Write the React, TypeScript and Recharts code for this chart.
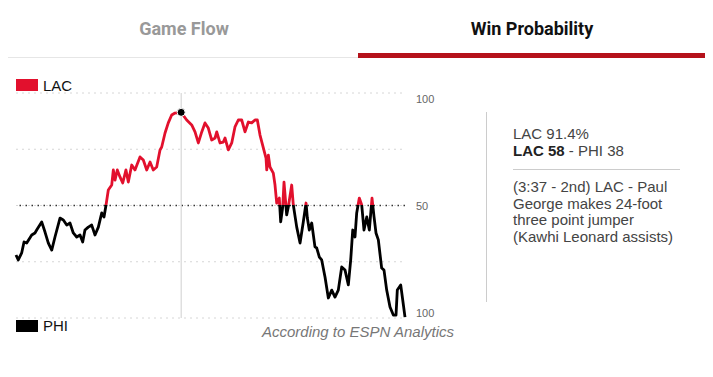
import {
  CartesianGrid,
  Line,
  LineChart,
  ReferenceDot,
  ReferenceLine,
  XAxis,
  YAxis,
} from 'recharts'

// game minute elapsed (0-48)
const minutes = [
  0, 0.28, 0.7, 0.99, 1.32, 1.94, 2.34, 2.55, 3.17, 3.58, 3.99, 4.41, 4.81, 5.43, 5.84, 6.26, 6.66, 7.07,
  7.49, 7.9, 8.23, 8.51, 8.92, 9.34, 9.75, 10.16, 10.58, 10.86, 11.11, 11.39, 11.81, 12.01, 12.22, 12.5,
  12.83, 13.17, 13.57, 13.86, 14.28, 14.68, 15.3, 15.71, 16.13, 16.54, 16.94, 17.36, 17.77, 17.98, 18.39,
  18.79, 19.21, 19.62, 20.38, 21.06, 21.68, 22.09, 22.5, 22.92, 23.32, 23.73, 24.15, 24.56, 24.77, 25.17,
  25.58, 25.79, 26.2, 26.62, 27.02, 27.43, 27.85, 28.26, 28.67, 29.08, 29.49, 29.78, 30.11, 30.52, 30.85,
  30.94, 31.14, 31.34, 31.75, 31.96, 32.17, 32.49, 32.66, 32.91, 33.07, 33.4, 33.6, 34.02, 34.22, 34.64,
  35.05, 35.45, 35.79, 35.95, 36.19, 36.49, 36.89, 37.11, 37.43, 37.72, 38.13, 38.54, 38.96, 39.36, 39.77,
  40.19, 40.6, 41.01, 41.3, 41.55, 41.83, 42.04, 42.36, 42.66, 42.94, 43.28, 43.6, 43.93, 44.18, 44.42,
  44.71, 45.12, 45.41, 45.74, 46.15, 46.56, 46.89, 47.05, 47.47, 47.72, 48,
]

// LAC win probability (%)
const lacWinPct = [
  28, 25.8, 28.9, 33.8, 33.3, 36.9, 37.8, 39.1, 42.7, 38.2, 33.3, 30.2, 36, 44.4, 43.6, 41.3, 42.2, 37.8,
  36, 36.9, 33.8, 39.1, 40.4, 41.3, 36.9, 40.4, 46.7, 44.9, 50.2, 56.9, 59.1, 65.8, 61.3, 65.8,
  62.7, 60, 65.8, 60.4, 68, 65.8, 71.6, 70.2, 65.8, 69.3, 65.8, 67.1, 74.7, 76, 82.2,
  86.7, 90.2, 91.1, 91.4, 88, 85.8, 82.7, 77.8, 82.7, 86.7, 84.4, 79.1, 80, 82.7, 77.8,
  78.2, 80, 74.7, 77.8, 84.9, 88, 88, 82.7, 87.1, 86.7, 88, 88, 81.3, 75.6, 71.1,
  65.8, 72.4, 67.1, 64.4, 59.1, 51.1, 53.3, 42.7, 49.3, 60.4, 45.8, 49.3, 59.1, 50.2, 40.4,
  33.3, 42.7, 51.1, 44.4, 39.1, 42.2, 31.6, 31.1, 27.1, 25.8, 18.2, 8.9, 12.4, 9.3, 12.4,
  22.7, 21.3, 14.7, 25.8, 39.1, 36, 46.7, 53.3, 50.2, 39.1, 44.9, 39.1, 53.3, 44.9, 37.8,
  34.7, 22.2, 21.3, 12.4, 4.9, 1.3, 1.3, 12.4, 14.7, 8, 0.4,
]

const gridTicks = [0, 25, 50, 75, 100]
const labelTicks = [0, 50, 100]
const selectedMinute = 20.38
const selectedPct = 91.4

const data = minutes.map((m, i) => ({ m, lac: lacWinPct[i] }))

const RED = '#e2102d'

const RightTick = (props: any) => {
  const { x, y, payload } = props
  const v = payload.value
  if (!labelTicks.includes(v)) return <g />
  const dy = v === 100 ? 6 : v === 0 ? -5 : 0
  return (
    <text x={x} y={y + dy} dy={4} style={{ fill: '#666' }} fontSize={11} fontFamily="Liberation Sans, Arial, sans-serif">
      {v === 50 ? '50' : '100'}
    </text>
  )
}

export default function App() {
  const font = 'Liberation Sans, Arial, sans-serif'
  const tab = { position: 'absolute' as const, top: 18, width: 240, textAlign: 'center' as const, fontFamily: 'Roboto, sans-serif', fontWeight: 700, fontSize: 18 }
  return (
    <div style={{ position: 'absolute', left: 0, top: 0, width: 713, height: 377, background: '#fff', fontFamily: font }}>
      {/* tabs */}
      <div style={{ ...tab, left: 64, color: '#999' }}>Game Flow</div>
      <div style={{ ...tab, left: 412, color: '#111' }}>Win Probability</div>
      <div style={{ position: 'absolute', left: 8, top: 57, width: 350, height: 1, background: '#e6e6e6' }} />
      <div style={{ position: 'absolute', left: 358, top: 53, width: 347, height: 5, background: '#b5121b' }} />

      {/* legend */}
      <div style={{ position: 'absolute', left: 16, top: 79, width: 22, height: 12, background: RED }} />
      <div style={{ position: 'absolute', left: 43, top: 77, fontSize: 15, color: '#111' }}>LAC</div>
      <div style={{ position: 'absolute', left: 16, top: 320, width: 22, height: 12, background: '#000' }} />
      <div style={{ position: 'absolute', left: 43, top: 317, fontSize: 15, color: '#111' }}>PHI</div>

      <div style={{ position: 'absolute', left: 0, top: 80 }}>
        <LineChart width={460} height={260} data={data} margin={{ top: 13, left: 16, right: 0, bottom: 22 }}>
          <defs>
            <linearGradient id="wpGrad" gradientUnits="userSpaceOnUse" x1="0" y1="13" x2="0" y2="238">
              <stop offset="0.5" stopColor={RED} />
              <stop offset="0.5" stopColor="#000" />
            </linearGradient>
          </defs>
          <CartesianGrid horizontal vertical={false} stroke="#d6d6d6" strokeDasharray="2 4" />
          <XAxis type="number" dataKey="m" domain={[0, 48]} hide />
          <YAxis
            orientation="right"
            domain={[0, 100]}
            ticks={gridTicks}
            interval={0}
            axisLine={false}
            tickLine={false}
            tickSize={0}
            tickMargin={11}
            width={55}
            tick={(p: any) => <RightTick {...p} />}
          />
          <ReferenceLine y={50} stroke="#333" strokeDasharray="1.5 4.5" strokeWidth={1.5} />
          <ReferenceLine x={selectedMinute} stroke="#cfcfcf" strokeWidth={1} />
          <Line
            type="linear"
            dataKey="lac"
            stroke="url(#wpGrad)"
            strokeWidth={2.8}
            strokeLinejoin="round"
            dot={false}
            activeDot={false}
            isAnimationActive={false}
          />
          <ReferenceDot x={selectedMinute} y={selectedPct} r={4} fill="#000" stroke="#fff" strokeWidth={1} />
        </LineChart>
      </div>

      <div style={{ position: 'absolute', left: 262, top: 323, fontSize: 15, fontStyle: 'italic', color: '#777' }}>
        According to ESPN Analytics
      </div>

      {/* play detail panel */}
      <div style={{ position: 'absolute', left: 486, top: 112, width: 1, height: 190, background: '#ccc' }} />
      <div style={{ position: 'absolute', left: 513, top: 125, fontSize: 15, lineHeight: '17px', color: '#444' }}>
        <div>LAC 91.4%</div>
        <div>
          <b style={{ color: '#222' }}>LAC 58</b> - PHI 38
        </div>
      </div>
      <div style={{ position: 'absolute', left: 513, top: 169, width: 167, height: 1, background: '#ccc' }} />
      <div style={{ position: 'absolute', left: 513, top: 179, fontSize: 15, lineHeight: '16.5px', color: '#444', whiteSpace: 'nowrap' }}>
        <div>(3:37 - 2nd) LAC - Paul</div>
        <div>George makes 24-foot</div>
        <div>three point jumper</div>
        <div>(Kawhi Leonard assists)</div>
      </div>
    </div>
  )
}
